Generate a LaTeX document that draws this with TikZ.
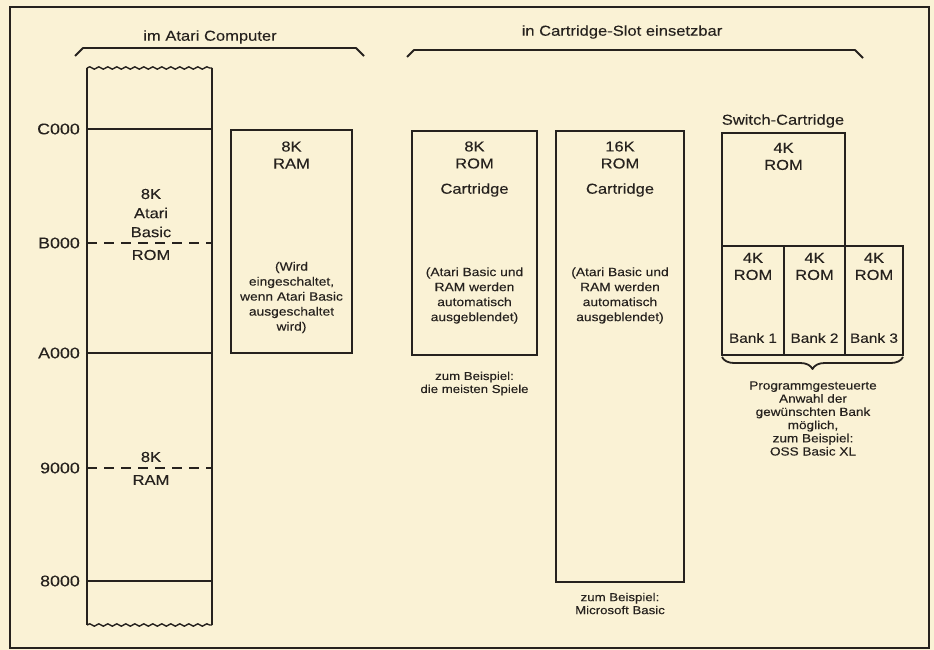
\documentclass[tikz,border=0pt]{standalone}
\usepackage{fontspec}
\setmainfont[FakeStretch=1.15,FakeBold=0.15]{Liberation Sans}
\usetikzlibrary{decorations.pathmorphing,decorations.pathreplacing}
\definecolor{paper}{RGB}{250,242,213}
\definecolor{ink}{RGB}{38,34,30}
\begin{document}
\begin{tikzpicture}[x=1pt,y=-1pt,
  box/.style={draw=ink, line width=1.8pt},
  lbl/.style={font=\fontsize{14.4}{17}\selectfont, align=center, text=ink, inner sep=0pt},
  toplbl/.style={font=\fontsize{14.4}{17}\selectfont, align=center, text=ink, inner sep=0pt},
  small/.style={font=\fontsize{12}{15}\selectfont, align=center, text=ink, inner sep=0pt},
  example/.style={font=\fontsize{11.5}{13}\selectfont, align=center, text=ink, inner sep=0pt},
  smaller/.style={font=\fontsize{11.8}{13.2}\selectfont, align=center, text=ink, inner sep=0pt},
  banklbl/.style={font=\fontsize{13.4}{16}\selectfont, align=center, text=ink, inner sep=0pt},
  addr/.style={font=\fontsize{15.5}{17}\selectfont, anchor=east, text=ink, inner sep=0pt},
  solidline/.style={draw=ink, line width=1.8pt},
  dashline/.style={draw=ink, line width=2.2pt, dash pattern=on 10pt off 7pt},
  wavy/.style={draw=ink, line width=1.4pt, decorate, decoration={snake, segment length=9pt, amplitude=1.2pt}},
  bracket/.style={draw=ink, line width=1.8pt, line join=round}]
\useasboundingbox (0,0) rectangle (934,650);
\fill[paper] (0,0) rectangle (934,650);
% frame
\draw[ink, line width=2pt] (10,7) rectangle (929,648);

% top labels and brackets
\node[toplbl] (atari) at (210,37) {im Atari Computer};
\draw[bracket] (75,56) -- (83,48) -- (356,48) -- (364,56);
\node[toplbl] (slot) at (622,32) {in Cartridge-Slot einsetzbar};
\draw[bracket] (407,57) -- (414,50) -- (855,50) -- (863,58);

% memory column
\coordinate (colTL) at (87,68);
\coordinate (colTR) at (212,68);
\coordinate (colBL) at (87,625);
\coordinate (colBR) at (212,625);
\draw[ink, line width=1.8pt] (colTL) -- (colBL);
\draw[ink, line width=1.8pt] (colTR) -- (colBR);
\draw[wavy] (colTL) -- (colTR);
\draw[wavy] (colBL) -- (colBR);

\node[addr] (c000) at (80,129) {C000};
\node[addr] (b000) at (80,243) {B000};
\node[addr] (a000) at (80,353) {A000};
\node[addr] (n9000) at (80,468) {9000};
\node[addr] (n8000) at (80,581) {8000};

\draw[solidline] (87,129) -- (212,129);
\draw[dashline] (87,243) -- (212,243);
\draw[solidline] (87,353) -- (212,353);
\draw[dashline] (87,468) -- (212,468);
\draw[solidline] (87,581) -- (212,581);

\node[lbl] (k8a) at (151,194) {8K};
\node[lbl] (atr) at (151,213) {Atari};
\node[lbl] (bas) at (151,232) {Basic};
\node[lbl] (rom1) at (151,255) {ROM};
\node[lbl] (k8r) at (151,457) {8K};
\node[lbl] (ram1) at (151,480) {RAM};

% 8K RAM box
\draw[box] (231,130) rectangle (352,353);
\node[lbl] (ramhead) at (291.5,155) {8K\\RAM};
\node[small] (ramnote) at (291.5,297.5) {(Wird\\eingeschaltet,\\wenn Atari Basic\\ausgeschaltet\\wird)};

% 8K ROM cartridge
\draw[box] (412,131) rectangle (537,355);
\node[lbl] (c8head) at (474.5,155) {8K\\ROM};
\node[lbl] (c8cart) at (474.5,190) {Cartridge};
\node[small] (c8note) at (474.5,295.5) {(Atari Basic und\\RAM werden\\automatisch\\ausgeblendet)};
\node[example] (c8ex) at (474.5,383.5) {zum Beispiel:\\die meisten Spiele};

% 16K ROM cartridge
\draw[box] (556,131) rectangle (684,582);
\node[lbl] (c16head) at (620,155) {16K\\ROM};
\node[lbl] (c16cart) at (620,190) {Cartridge};
\node[small] (c16note) at (620,295.5) {(Atari Basic und\\RAM werden\\automatisch\\ausgeblendet)};
\node[example] (c16ex) at (620,603.5) {zum Beispiel:\\Microsoft Basic};

% switch cartridge
\node[lbl] (swhead) at (783,121) {Switch-Cartridge};
\draw[box] (722,133) rectangle (845,246);
\node[lbl] (swrom) at (783.5,156.5) {4K\\ROM};
\draw[box] (722,246) rectangle (903,355);
\draw[box] (784,246) -- (784,355);
\draw[box] (845,246) -- (845,355);
\node[lbl] (b1rom) at (753,266.5) {4K\\ROM};
\node[lbl] (b2rom) at (814.5,266.5) {4K\\ROM};
\node[lbl] (b3rom) at (874,266.5) {4K\\ROM};
\node[banklbl] (bank1) at (753,338) {Bank 1};
\node[banklbl] (bank2) at (814.5,338) {Bank 2};
\node[banklbl] (bank3) at (874,338) {Bank 3};
\draw[bracket, decorate, decoration={brace, amplitude=12pt}] (903,357) -- (722,357);
\node[smaller] (swnote) at (813,418.5) {Programmgesteuerte\\Anwahl der\\gewünschten Bank\\möglich,\\zum Beispiel:\\OSS Basic XL};
\end{tikzpicture}
\end{document}
